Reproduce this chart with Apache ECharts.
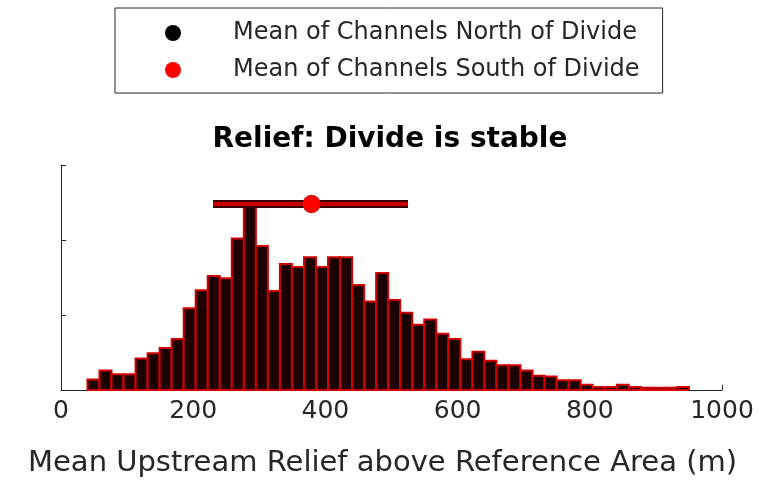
<!DOCTYPE html>
<html>
<head>
<meta charset="utf-8">
<script src="https://cdn.jsdelivr.net/npm/echarts@6/dist/echarts.min.js"></script>
<style>
  html, body { margin: 0; padding: 0; background: #fff; }
  #chart { width: 769px; height: 486px; }
</style>
</head>
<body>
<div id="chart"></div>
<script>
// Histogram bins of mean upstream relief (m)
const binStart = 40;
const binWidth = 18.2;
const binCounts = [
  1.4, 2.6, 2.1, 2.1, 4.2, 4.9, 5.6, 6.8, 10.9, 13.3,
  15.2, 14.9, 20.2, 24.4, 19.2, 13.2, 16.8, 16.4, 17.7, 16.4,
  17.7, 17.7, 14.0, 11.8, 15.6, 12.0, 10.3, 8.7, 9.4, 7.5,
  6.8, 4.1, 5.1, 3.9, 3.3, 3.3, 2.6, 1.9, 1.8, 1.3,
  1.3, 0.7, 0.4, 0.4, 0.7, 0.4, 0.3, 0.3, 0.3, 0.4
];

// Means and spread (mean ± 1 sd) of the two channel groups
const northMean = [379];
const northRange = [230, 525];
const southMean = [379];
const southRange = [230, 525];
const meanLevel = [24.8];

// Axis ticks
const xTicks = [0, 200, 400, 600, 800, 1000];
const yTicks = [0, 10, 20, 30];

const seriesNames = ['Mean of Channels North of Divide', 'Mean of Channels South of Divide'];

const binData = binCounts.map((c, i) => [binStart + i * binWidth, binStart + (i + 1) * binWidth, c]);

const FONT = 'DejaVu Sans';
const AXIS = '#262626';

const chart = echarts.init(document.getElementById('chart'));
chart.setOption({
  animation: false,
  backgroundColor: '#fff',
  title: {
    text: 'Relief: Divide is stable',
    left: 385,
    textAlign: 'center',
    top: 121,
    textStyle: { fontFamily: FONT, fontSize: 28, fontWeight: 'bold', color: '#000' }
  },
  legend: {
    data: seriesNames,
    orient: 'vertical',
    left: 115,
    top: 8,
    padding: [13, 23, 11, 50],
    itemGap: 13,
    itemWidth: 16,
    itemHeight: 16,
    selectedMode: false,
    borderColor: AXIS,
    borderWidth: 1,
    formatter: name => '{g|}' + name,
    textStyle: {
      fontFamily: FONT, fontSize: 24, color: AXIS, lineHeight: 24,
      rich: { g: { width: 47 } }
    }
  },
  grid: { left: 61, right: 47, top: 165, bottom: 96, containLabel: false },
  xAxis: {
    type: 'value',
    min: xTicks[0],
    max: xTicks[xTicks.length - 1],
    interval: xTicks[1] - xTicks[0],
    axisLine: { lineStyle: { color: AXIS, width: 1 } },
    axisTick: { inside: true, length: 5, lineStyle: { color: AXIS } },
    axisLabel: { margin: 9, fontFamily: FONT, fontSize: 25, color: AXIS, formatter: v => String(v) },
    splitLine: { show: false },
    name: 'Mean Upstream Relief above Reference Area (m)',
    nameLocation: 'middle',
    nameGap: 59,
    nameTextStyle: { fontFamily: FONT, fontSize: 29, color: AXIS, padding: [0, 18, 0, 0] }
  },
  yAxis: {
    type: 'value',
    min: yTicks[0],
    max: yTicks[yTicks.length - 1],
    interval: yTicks[1] - yTicks[0],
    axisLine: { show: true, lineStyle: { color: AXIS, width: 1 } },
    axisTick: { show: true, inside: true, length: 5, lineStyle: { color: AXIS } },
    axisLabel: { show: false },
    splitLine: { show: false }
  },
  series: [
    {
      type: 'custom',
      name: 'bins',
      silent: true,
      data: binData,
      encode: { x: [0, 1], y: 2 },
      z: 2,
      renderItem: (params, api) => {
        const p0 = api.coord([api.value(0), api.value(2)]);
        const p1 = api.coord([api.value(1), 0]);
        return {
          type: 'rect',
          shape: { x: p0[0], y: p0[1], width: p1[0] - p0[0], height: p1[1] - p0[1] },
          style: { fill: '#1c0101', stroke: '#d40000', lineWidth: 2 }
        };
      }
    },
    {
      type: 'line',
      name: 'northRange',
      silent: true,
      symbol: 'none',
      z: 3,
      data: northRange.map(v => [v, meanLevel[0]]),
      lineStyle: { color: '#2a0000', width: 8, cap: 'butt' }
    },
    {
      type: 'line',
      name: 'southRange',
      silent: true,
      symbol: 'none',
      z: 4,
      data: southRange.map(v => [v, meanLevel[0]]),
      lineStyle: { color: '#c80000', width: 4.5, cap: 'butt' }
    },
    {
      type: 'scatter',
      name: seriesNames[0],
      silent: true,
      z: 5,
      symbol: 'circle',
      symbolSize: 18,
      itemStyle: { color: '#000', opacity: 1 },
      data: northMean.map(v => [v, meanLevel[0]])
    },
    {
      type: 'scatter',
      name: seriesNames[1],
      silent: true,
      z: 6,
      symbol: 'circle',
      symbolSize: 18,
      itemStyle: { color: '#ff0000', opacity: 1 },
      data: southMean.map(v => [v, meanLevel[0]])
    }
  ]
});
</script>
</body>
</html>
